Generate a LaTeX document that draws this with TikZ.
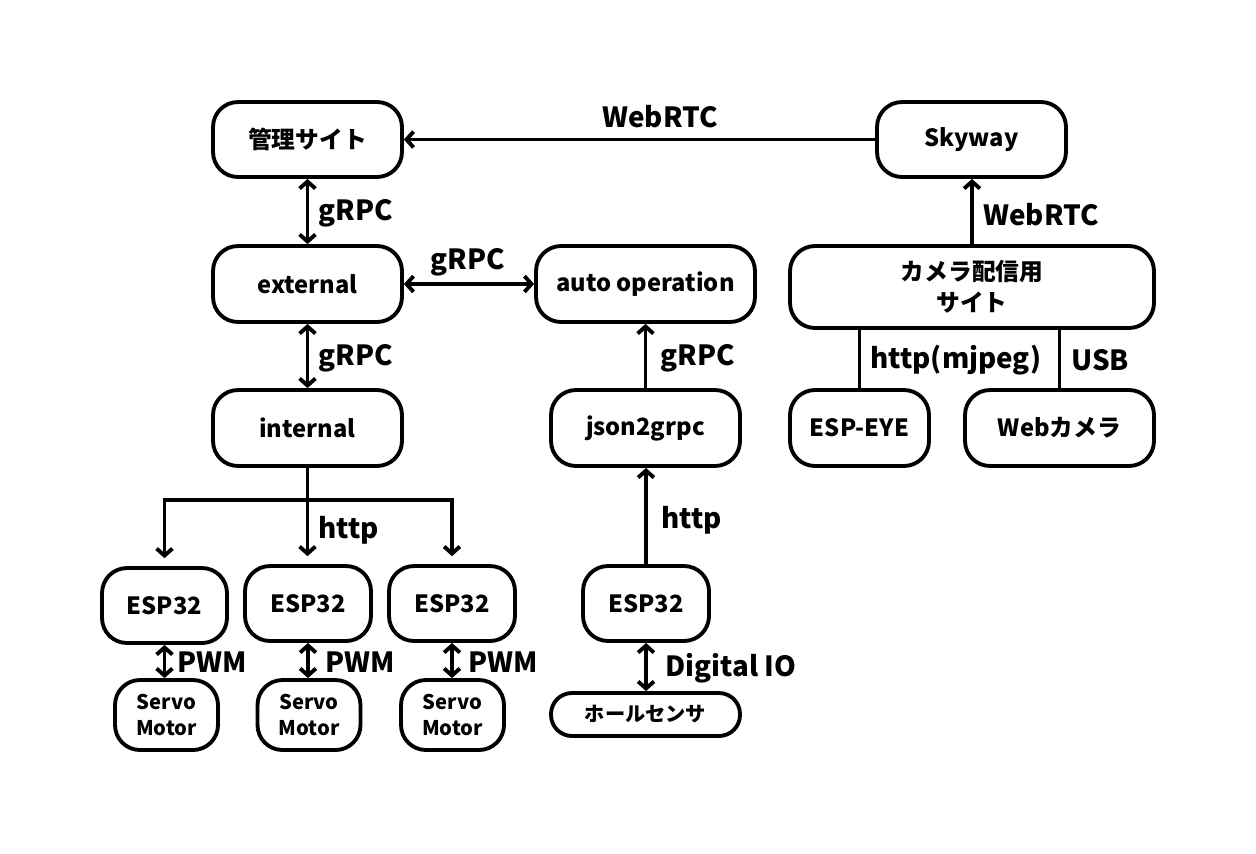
\documentclass[tikz,border=0pt]{standalone}
\usepackage{fontspec}
\setmainfont{Noto Sans CJK JP}
\usetikzlibrary{arrows.meta}
\tikzset{
  box/.style={draw, line width=2.2pt, rounded corners=0.5cm, inner sep=0pt, align=center,
     font=\fontsize{13.5}{17.6}\selectfont\bfseries},
  smallbox/.style={box, font=\fontsize{11.5}{14.8}\selectfont\bfseries},
  lbl/.style={font=\fontsize{15.8}{18}\selectfont\bfseries, inner sep=0pt},
  conn/.style={line width=2.2pt},
  tip/.style={-{Straight Barb[length=4pt,width=9pt]}},
  tips/.style={{Straight Barb[length=4pt,width=9pt]}-{Straight Barb[length=4pt,width=9pt]}},
}
\begin{document}
\begin{tikzpicture}[x=0.02cm,y=-0.02cm]
\useasboundingbox (0,0) rectangle (1256,853);
% nodes
\node[box, minimum width=3.78cm, minimum height=1.5cm] (kanri) at (307.5,139.5) {管理サイト};
\node[box, minimum width=3.78cm, minimum height=1.5cm] (skyway) at (971.5,139.5) {Skyway};
\node[box, minimum width=3.78cm, minimum height=1.52cm] (external) at (307.5,284) {external};
\node[box, minimum width=4.38cm, minimum height=1.52cm] (auto) at (645.5,284) {auto operation};
\node[box, minimum width=3.78cm, minimum height=1.52cm] (internal) at (307.5,428) {internal};
\node[box, minimum width=3.78cm, minimum height=1.52cm] (json) at (645.5,428) {json2grpc};
\node[box, minimum width=7.28cm, minimum height=1.64cm] (camsite) at (972,287) {カメラ配信用\\サイト};
\node[box, minimum width=2.78cm, minimum height=1.52cm] (espeye) at (859.5,428) {ESP-EYE};
\node[box, minimum width=3.78cm, minimum height=1.52cm] (webcam) at (1059.5,428) {Webカメラ};
\node[box, minimum width=2.5cm, minimum height=1.5cm] (esp1) at (164.5,605.5) {ESP32};
\node[box, minimum width=2.52cm, minimum height=1.5cm] (esp2) at (308,603.5) {ESP32};
\node[box, minimum width=2.52cm, minimum height=1.5cm] (esp3) at (452,603.5) {ESP32};
\node[box, minimum width=2.52cm, minimum height=1.5cm] (esp4) at (646,603.5) {ESP32};
\node[smallbox, minimum width=2.06cm, minimum height=1.4cm] (servo1) at (166.5,715) {Servo\\Motor};
\node[smallbox, minimum width=2.06cm, minimum height=1.4cm] (servo2) at (309,715) {Servo\\Motor};
\node[smallbox, minimum width=2.06cm, minimum height=1.4cm] (servo3) at (452.5,715) {Servo\\Motor};
\node[smallbox, rounded corners=0.42cm, minimum width=3.78cm, minimum height=0.86cm] (hall) at (645.5,714.5) {ホールセンサ};
\coordinate (bar) at (307.5,500);
% connectors
\draw[conn,tip] (skyway.west) -- (kanri.east);
\draw[conn,tips] (kanri.south) -- (external.north);
\draw[conn,tips] (external.east) -- (auto.west);
\draw[conn,tips] (external.south) -- (internal.north);
\draw[conn,tip] (json.north) -- (auto.south);
\draw[conn,tip] (esp4.north) -- (json.south -| esp4.north);
\draw[conn,tips] (esp4.south) -- (hall.north -| esp4.south);
\draw[conn,tip] (camsite.north) -- (skyway.south -| camsite.north);
\draw[conn] (espeye.north) -- (espeye.north |- camsite.south);
\draw[conn] (webcam.north) -- (webcam.north |- camsite.south);
\draw[conn,tips,line join=miter,shorten <=4.5pt,shorten >=4.5pt] (esp1.north) |- (bar) -| (esp3.north);
\draw[conn,tip,shorten >=4.5pt] (internal.south) -- (internal.south |- esp2.north);
\draw[conn,tips] (esp1.south) -- (esp1.south |- servo1.north);
\draw[conn,tips] (esp2.south) -- (esp2.south |- servo2.north);
\draw[conn,tips] (esp3.south) -- (esp3.south |- servo3.north);
% labels
\node[lbl] (l1) at (660,117) {WebRTC};
\node[lbl, anchor=west] (l2) at (318,213) {gRPC};
\node[lbl] (l3) at (468,262) {gRPC};
\node[lbl, anchor=west] (l4) at (318,358) {gRPC};
\node[lbl, anchor=west] (l5) at (660,358) {gRPC};
\node[lbl, anchor=west] (l6) at (983,215) {WebRTC};
\node[lbl, anchor=west] (l7) at (870,360) {http(mjpeg)};
\node[lbl, anchor=west] (l8) at (1071,360) {USB};
\node[lbl, anchor=west] (l9) at (318,530) {http};
\node[lbl, anchor=west] (l10) at (661,520) {http};
\node[lbl, anchor=west] (l11) at (177,662) {PWM};
\node[lbl, anchor=west] (l12) at (325,662) {PWM};
\node[lbl, anchor=west] (l13) at (468,662) {PWM};
\node[lbl, anchor=west] (l14) at (665,668) {Digital IO};
\end{tikzpicture}
\end{document}
